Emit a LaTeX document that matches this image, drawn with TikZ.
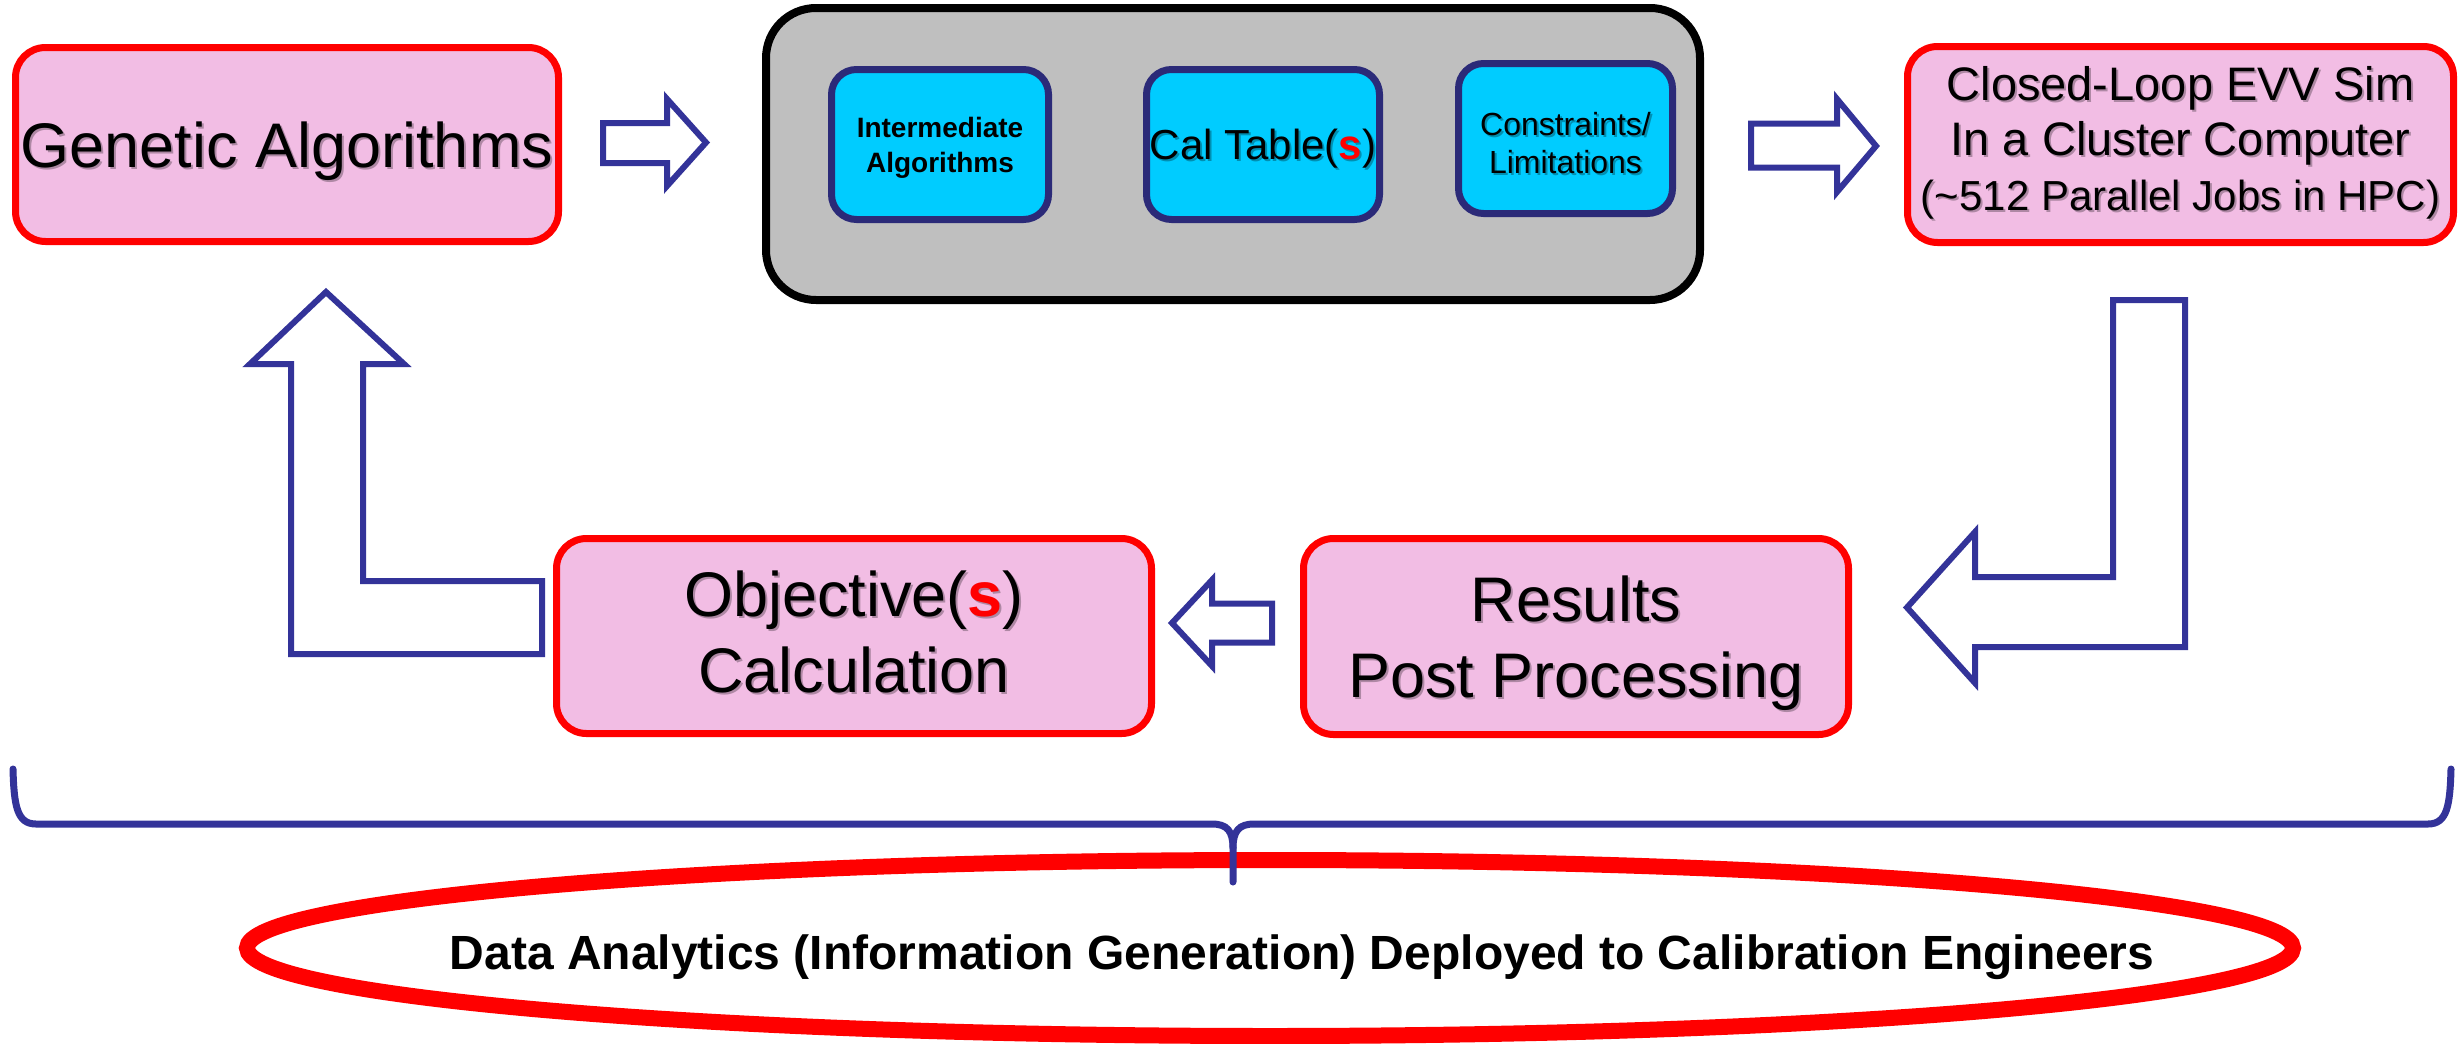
\documentclass[tikz,border=0pt]{standalone}
\usepackage{fontspec}
\setmainfont{Liberation Sans}
\usetikzlibrary{shapes.geometric}

\definecolor{pinkfill}{HTML}{F2BDE4}
\definecolor{cyanfill}{HTML}{00CCFF}
\definecolor{greyfill}{HTML}{BFBFBF}
\definecolor{navyline}{HTML}{2B2A78}
\definecolor{arrowblue}{HTML}{333399}
\definecolor{boxred}{HTML}{FF0000}
\colorlet{shadowc}{pinkfill!72!black}

% soft drop shadow behind a line of text; \rs gives the red bold "s"
\newif\ifshadowpass
\newcommand\rs{\ifshadowpass\textbf{s}\else\textcolor{boxred}{\textbf{s}}\fi}
\newcommand\shd[1]{\leavevmode\rlap{\shadowpasstrue\hspace*{2pt}\raisebox{-2pt}{\color{shadowc}#1}}#1}

\tikzset{
  stage/.style={draw=boxred, line width=7pt, fill=pinkfill, rounded corners=30pt,
    inner sep=0pt, align=center, text depth=0pt},
  item/.style={draw=navyline, line width=7pt, fill=cyanfill, rounded corners=25pt,
    inner sep=0pt, align=center, text depth=0pt},
  holder/.style={draw=black, line width=8pt, fill=greyfill, rounded corners=50pt, inner sep=0pt},
  blockarrow/.style={draw=arrowblue, line width=6pt, fill=white, line join=miter},
  brace/.style={draw=arrowblue, line width=7pt, line cap=round},
}

\begin{document}
\begin{tikzpicture}[x=1pt, y=-1pt]
\useasboundingbox[fill=white] (0,0) rectangle (2463,1044);

% ---- top row ----
\node[stage, minimum width=543pt, minimum height=194pt,
      font=\fontsize{63}{76}\selectfont] (ga) at (287,144.5) {\shd{Genetic Algorithms}};

\node[holder, minimum width=934pt, minimum height=292pt] (tool) at (1233,154) {};

\node[item, minimum width=217pt, minimum height=150pt,
      font=\bfseries\fontsize{28}{35}\selectfont] (inter) at (940,144.5)
      {Intermediate\\Algorithms};
\node[item, minimum width=233pt, minimum height=150pt,
      font=\colorlet{shadowc}{cyanfill!70!black}\fontsize{42}{50}\selectfont] (cal) at (1263,144.5)
      {\shd{Cal Table(\rs)}};
\node[item, minimum width=214pt, minimum height=150pt, text height=69pt,
      font=\colorlet{shadowc}{cyanfill!70!black}\fontsize{32}{38}\selectfont] (cons) at (1565.5,138.5)
      {\shd{Constraints/}\\\shd{Limitations}};

\node[stage, minimum width=546pt, minimum height=196pt, text depth=13pt,
      font=\fontsize{47}{55}\selectfont] (sim) at (2180.5,144.5)
      {\shd{Closed-Loop EVV Sim}\\\shd{In a Cluster Computer}\\
       {\fontsize{42}{53}\selectfont\shd{(\textasciitilde512 Parallel Jobs in HPC)}}};

% ---- bottom row ----
\node[stage, minimum width=595pt, minimum height=195pt, text depth=8pt,
      font=\fontsize{63}{76}\selectfont] (obj) at (854,636)
      {\shd{Objective(\rs)}\\\shd{Calculation}};
\node[stage, minimum width=545pt, minimum height=196pt,
      font=\fontsize{63}{76}\selectfont] (res) at (1576,636.5)
      {\shd{Results}\\\shd{Post Processing}};

% ---- block arrows of the loop ----
\draw[blockarrow] (603,123) -- (667,123) -- (667,99) -- (706,142.5) -- (667,186)
  -- (667,163) -- (603,163) -- cycle;
\draw[blockarrow] (1751,123.5) -- (1837,123.5) -- (1837,99) -- (1876,146) -- (1837,192)
  -- (1837,167.5) -- (1751,167.5) -- cycle;
\draw[blockarrow] (2113,300) -- (2185,300) -- (2185,647) -- (1975,647) -- (1975,683)
  -- (1907,607.5) -- (1975,532) -- (1975,577) -- (2113,577) -- cycle;
\draw[blockarrow] (1272,603.5) -- (1212,603.5) -- (1212,580) -- (1172,623) -- (1212,666)
  -- (1212,642.5) -- (1272,642.5) -- cycle;
\draw[blockarrow] (542,581) -- (363,581) -- (363,364) -- (404,364) -- (326,292)
  -- (250,364) -- (291,364) -- (291,654) -- (542,654) -- cycle;

% ---- outcome ----
\node[draw=boxred, line width=16pt, ellipse, minimum width=2046pt, minimum height=176pt,
      inner sep=0pt] (oval) at (1270,948) {};
\node[anchor=base, inner sep=0pt, font=\bfseries\fontsize{48}{56}\selectfont] (outcome)
  at (1302,969) {Data Analytics (Information Generation) Deployed to Calibration Engineers};

% brace gathering the loop
\draw[brace] (13,769) .. controls (14,806) and (17,824) .. (36,824) -- (1212,824)
  .. controls (1227,824) and (1233,831) .. (1233,848) -- (1233,882);
\draw[brace] (1233,848) .. controls (1233,831) and (1239,824) .. (1254,824) -- (2428,824)
  .. controls (2447,824) and (2450,806) .. (2451,769);
\end{tikzpicture}
\end{document}
